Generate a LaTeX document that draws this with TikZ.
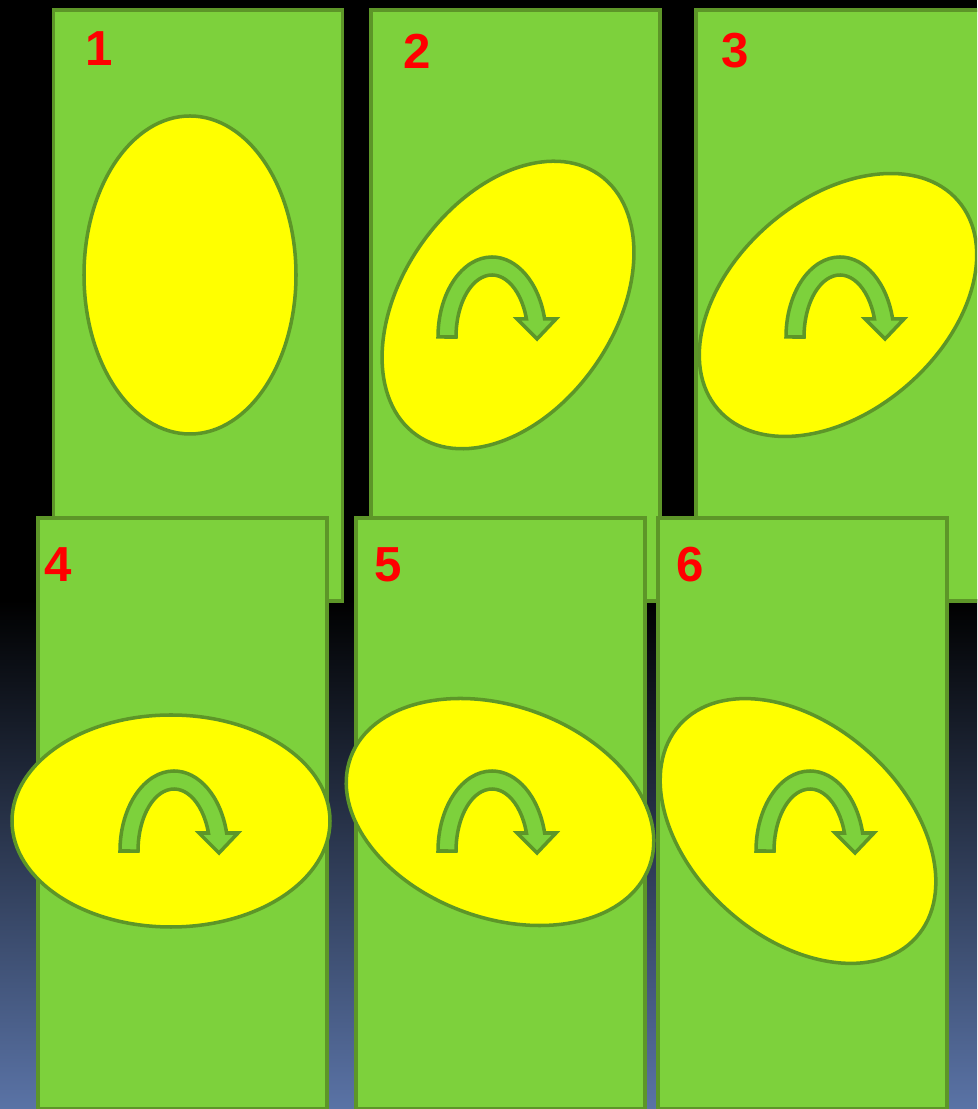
\documentclass[tikz,border=0pt]{standalone}
\usepackage{fontspec}
\setmainfont{Liberation Sans}
\usepackage{xcolor}
\usetikzlibrary{shapes.geometric}

\definecolor{panelgreen}{RGB}{125,209,60}
\definecolor{edgegreen}{RGB}{93,150,40}
\definecolor{leafyellow}{RGB}{255,255,0}
\definecolor{numred}{RGB}{255,0,0}
\definecolor{bgblue}{RGB}{90,115,166}

\begin{document}
\begin{tikzpicture}[
  panel/.style={draw=edgegreen, fill=panelgreen, line width=2pt, minimum width=5.78cm, minimum height=11.82cm, inner sep=0pt},
  leaf/.style={draw=edgegreen, fill=leafyellow, line width=2pt, ellipse, minimum width=6.36cm, minimum height=4.24cm, inner sep=0pt},
  num/.style={text=numred, font=\fontsize{28}{30}\selectfont\bfseries, inner sep=0pt},
  arrowshape/.style={draw=edgegreen, fill=panelgreen, line width=2pt, line join=miter},
  turnarrow/.pic={
    \path[arrowshape] (-1.08,0) arc[start angle=180, end angle=13, x radius=1.08, y radius=1.6]
      -- (1.28,0.36) -- (0.9,-0.04) -- (0.5,0.36) -- (0.689,0.36)
      arc[start angle=16.9, end angle=180, x radius=0.72, y radius=1.24] -- cycle;
  }
]
\clip (0,0) rectangle (19.54,22.18);
\fill[black] (0,0) rectangle (19.54,22.18);
\shade[top color=black, bottom color=bgblue] (0,0) rectangle (19.54,10.18);

% top row
\node[panel] (p1) at (3.96,16.07) {};
\node[leaf, rotate=90] (e1) at (3.8,16.68) {};
\node[num] (n1) at (1.98,21.2) {1};

\node[panel] (p2) at (10.31,16.07) {};
\node[leaf, rotate=55] (e2) at (10.16,16.08) {};
\pic at (9.84,15.44) {turnarrow};
\node[num] (n2) at (8.34,21.16) {2};

\node[panel] (p3) at (16.81,16.07) {};
\node[leaf, rotate=41] (e3) at (16.76,16.08) {};
\pic at (16.8,15.44) {turnarrow};
\node[num] (n3) at (14.7,21.16) {3};

% bottom row
\node[panel] (p4) at (3.65,5.91) {};
\node[leaf] (e4) at (3.42,5.76) {};
\pic at (3.48,5.16) {turnarrow};
\node[num] (n4) at (1.16,10.88) {4};

\node[panel] (p5) at (10.01,5.91) {};
\node[leaf, rotate=-20] (e5) at (10.0,5.94) {};
\pic at (9.84,5.16) {turnarrow};
\node[num] (n5) at (7.76,10.88) {5};

\node[panel] (p6) at (16.05,5.91) {};
\node[leaf, rotate=-42] (e6) at (15.96,5.56) {};
\pic at (16.2,5.16) {turnarrow};
\node[num] (n6) at (13.8,10.88) {6};
\end{tikzpicture}
\end{document}
